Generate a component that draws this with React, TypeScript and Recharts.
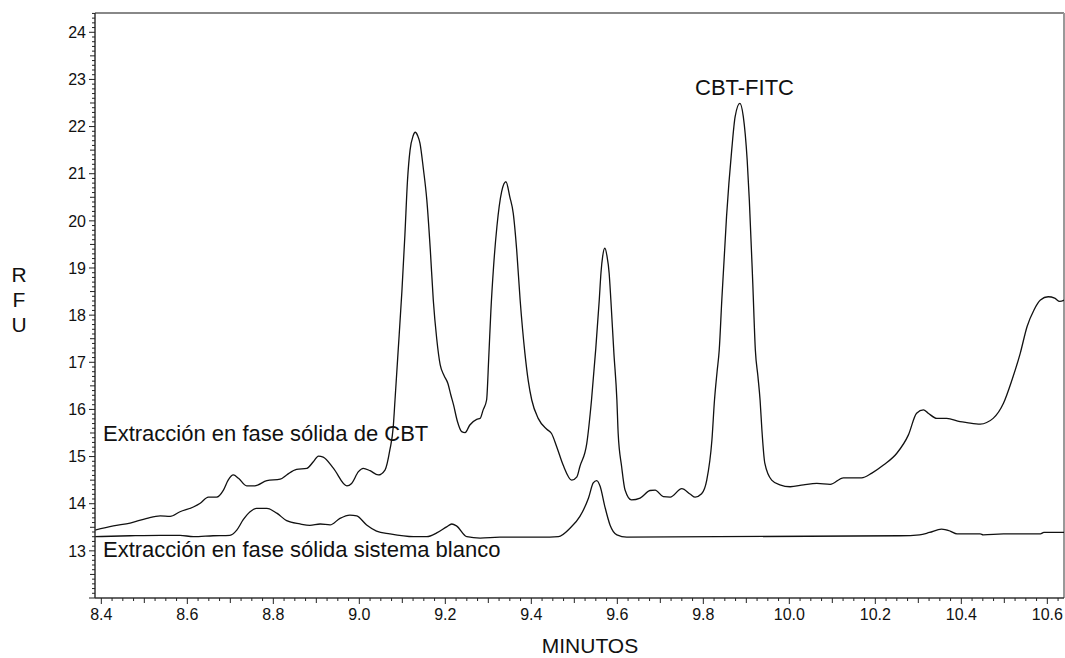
import React from 'react';
import { LineChart, Line, XAxis, YAxis, ReferenceLine } from 'recharts';

// CBT solid-phase extraction trace (minutes, RFU)
const cbtTime = [
  8.385, 8.428, 8.467, 8.506, 8.537, 8.56, 8.583, 8.614, 8.63, 8.649, 8.668, 8.684, 8.695,
  8.707, 8.719, 8.738, 8.757, 8.785, 8.816, 8.831, 8.854, 8.878, 8.893, 8.905, 8.916, 8.94,
  8.971, 8.982, 8.998, 9.009, 9.025, 9.044, 9.06, 9.071, 9.079, 9.083, 9.09, 9.099, 9.106,
  9.112, 9.118, 9.125, 9.13, 9.136, 9.141, 9.149, 9.157, 9.165, 9.172, 9.18, 9.188, 9.197,
  9.206, 9.213, 9.219, 9.228, 9.238, 9.246, 9.257, 9.273, 9.281, 9.288, 9.296, 9.301, 9.306,
  9.312, 9.32, 9.331, 9.341, 9.35, 9.358, 9.366, 9.374, 9.385, 9.393, 9.401, 9.416, 9.436,
  9.447, 9.459, 9.474, 9.494, 9.506, 9.513, 9.529, 9.54, 9.55, 9.558, 9.562, 9.566, 9.571,
  9.576, 9.581, 9.585, 9.592, 9.599, 9.602, 9.61, 9.618, 9.633, 9.653, 9.676, 9.688, 9.707,
  9.723, 9.75, 9.77, 9.781, 9.796, 9.808, 9.82, 9.826, 9.832, 9.837, 9.843, 9.854, 9.866,
  9.874, 9.885, 9.893, 9.902, 9.907, 9.915, 9.921, 9.927, 9.932, 9.936, 9.943, 9.959, 9.978,
  10.002, 10.033, 10.064, 10.095, 10.126, 10.168, 10.192, 10.219, 10.25, 10.277, 10.296,
  10.312, 10.323, 10.343, 10.366, 10.397, 10.413, 10.444, 10.474, 10.498, 10.518, 10.537,
  10.553, 10.569, 10.584, 10.602, 10.617, 10.629, 10.64,
];
const cbtRfu = [
  13.44, 13.53, 13.59, 13.69, 13.74, 13.73, 13.83, 13.93, 14.01, 14.14, 14.14, 14.29, 14.5,
  14.61, 14.54, 14.38, 14.38, 14.49, 14.52, 14.61, 14.73, 14.75, 14.89, 15.01, 14.99, 14.75,
  14.38, 14.43, 14.68, 14.75, 14.7, 14.61, 14.72, 15.14, 15.64, 16.2, 17.2, 18.5, 19.7,
  20.85, 21.5, 21.8, 21.88, 21.8, 21.65, 21.1, 20.44, 19.4, 18.32, 17.5, 16.95, 16.72,
  16.55, 16.3, 16.1, 15.75, 15.53, 15.51, 15.67, 15.79, 15.81, 15.99, 16.2, 17.1, 18.1,
  19.0, 19.88, 20.62, 20.83, 20.51, 20.16, 19.38, 18.32, 17.2, 16.6, 16.2, 15.81, 15.58,
  15.49, 15.21, 14.82, 14.5, 14.57, 14.79, 15.28, 16.2, 17.3, 18.32, 18.9, 19.25, 19.42,
  19.25, 18.89, 18.32, 17.2, 16.2, 15.49, 14.79, 14.29, 14.08, 14.12, 14.28, 14.29, 14.15,
  14.14, 14.32, 14.2, 14.14, 14.21, 14.5, 15.35, 16.2, 16.8, 17.26, 18.32, 20.09, 21.5,
  22.21, 22.49, 22.21, 21.29, 20.44, 18.68, 17.26, 16.7, 16.2, 15.6, 14.86, 14.5, 14.4,
  14.36, 14.4, 14.43, 14.41, 14.55, 14.55, 14.65, 14.82, 15.07, 15.46, 15.92,
  15.99, 15.92, 15.81, 15.81, 15.74, 15.72, 15.69, 15.81, 16.13, 16.63, 17.19,
  17.76, 18.11, 18.32, 18.39, 18.36, 18.29, 18.32,
];

// blank system trace (minutes, RFU)
const blankTime = [
  8.385, 8.467, 8.537, 8.583, 8.614, 8.66, 8.699, 8.715, 8.73, 8.746, 8.761, 8.785, 8.808,
  8.831, 8.862, 8.885, 8.909, 8.932, 8.955, 8.978, 8.994, 9.017, 9.04, 9.071, 9.126, 9.157,
  9.18, 9.203, 9.215, 9.226, 9.25, 9.281, 9.327, 9.443, 9.463, 9.49, 9.513, 9.533, 9.544,
  9.552, 9.56, 9.571, 9.583, 9.599, 9.622, 10.257, 10.303, 10.326, 10.354, 10.374, 10.39,
  10.444, 10.451, 10.498, 10.584, 10.592, 10.64,
];
const blankRfu = [
  13.3, 13.32, 13.33, 13.33, 13.3, 13.32, 13.33, 13.44, 13.66, 13.83, 13.9, 13.9, 13.8,
  13.64, 13.57, 13.54, 13.57, 13.55, 13.69, 13.76, 13.74, 13.55, 13.42, 13.36, 13.3, 13.3,
  13.38, 13.51, 13.57, 13.53, 13.3, 13.27, 13.29, 13.29, 13.3, 13.48, 13.73, 14.12, 14.44,
  14.49, 14.37, 13.94, 13.55, 13.34, 13.29, 13.32, 13.34, 13.39, 13.46, 13.42, 13.36,
  13.36, 13.34, 13.36, 13.36, 13.39, 13.39,
];

// axis ticks, in steps of 0.025 min and 0.1 RFU
const xTicks = Array.from({ length: 90 }, (_, i) => +((336 + i) * 0.025).toFixed(3));
const yTicks = Array.from({ length: 125 }, (_, i) => +((120 + i) * 0.1).toFixed(1));

const X_DOMAIN = [8.3853, 10.6388];
const Y_DOMAIN = [12, 24.409];

const cbtData = cbtTime.map((t, i) => ({ t, rfu: cbtRfu[i] }));
const blankData = blankTime.map((t, i) => ({ t, rfu: blankRfu[i] }));

const FONT = '"Liberation Sans", Arial, Helvetica, sans-serif';
const INK = '#111';

// tick line of 3px comes from recharts, majors get an extra stub
const XTick = ({ x, y, payload }: any) => {
  const k = Math.round(payload.value / 0.025);
  const major = k % 8 === 0;
  const extra = major ? 3 : k % 4 === 0 ? 2 : 0;
  return (
    <g>
      {extra > 0 && <line x1={x} x2={x} y1={y} y2={y + extra} stroke="#222" strokeWidth={1} />}
      {major && (
        <text x={x} y={y + 18.5} textAnchor="middle" fontSize={16} fill={INK} fontFamily={FONT}>
          {payload.value.toFixed(1)}
        </text>
      )}
    </g>
  );
};

const YTick = ({ x, y, payload }: any) => {
  const k = Math.round(payload.value * 10);
  const major = k % 10 === 0;
  const extra = major ? 3 : k % 5 === 0 ? 2 : 0;
  return (
    <g>
      {extra > 0 && <line x1={x - extra} x2={x} y1={y} y2={y} stroke="#222" strokeWidth={1} />}
      {major && k > 120 && (
        <text x={x - 6} y={y} dy="0.36em" textAnchor="end" fontSize={16} fill={INK} fontFamily={FONT}>
          {Math.round(payload.value)}
        </text>
      )}
    </g>
  );
};

export default function App() {
  return (
    <div style={{ position: 'absolute', left: 0, top: 0, width: 1065, height: 658, background: '#fff', fontFamily: FONT }}>
      <LineChart width={1065} height={658} margin={{ top: 13, right: 1, left: 0, bottom: 0 }}>
        <XAxis
          dataKey="t"
          type="number"
          domain={X_DOMAIN}
          allowDataOverflow
          ticks={xTicks}
          interval={0}
          height={60}
          tickSize={3}
          tickMargin={0}
          tickLine={{ stroke: '#222', strokeWidth: 1 }}
          tick={XTick}
          axisLine={{ stroke: '#333', strokeWidth: 1.5 }}
        />
        <YAxis
          dataKey="rfu"
          type="number"
          domain={Y_DOMAIN}
          allowDataOverflow
          ticks={yTicks}
          interval={0}
          width={95}
          tickSize={3}
          tickMargin={0}
          tickLine={{ stroke: '#222', strokeWidth: 1 }}
          tick={YTick}
          axisLine={{ stroke: '#333', strokeWidth: 1.5 }}
        />
        {/* frame on top and right */}
        <ReferenceLine y={Y_DOMAIN[1]} stroke="#888" strokeWidth={2} />
        <ReferenceLine x={X_DOMAIN[1]} stroke="#999" strokeWidth={2} />
        <Line
          data={cbtData}
          dataKey="rfu"
          type="monotone"
          stroke={INK}
          strokeWidth={1.3}
          dot={false}
          isAnimationActive={false}
        />
        <Line
          data={blankData}
          dataKey="rfu"
          type="monotone"
          stroke={INK}
          strokeWidth={1.3}
          dot={false}
          isAnimationActive={false}
        />
      </LineChart>
      <svg
        width={1065}
        height={658}
        style={{ position: 'absolute', left: 0, top: 0, pointerEvents: 'none' }}
        fontFamily={FONT}
        fill={INK}
      >
        <text x={103} y={441} fontSize={22}>Extracción en fase sólida de CBT</text>
        <text x={103} y={557} fontSize={22}>Extracción en fase sólida sistema blanco</text>
        <text x={695} y={95} fontSize={22}>CBT-FITC</text>
        <text x={19} y={282} fontSize={21} textAnchor="middle">R</text>
        <text x={19} y={307} fontSize={21} textAnchor="middle">F</text>
        <text x={19} y={332} fontSize={21} textAnchor="middle">U</text>
        <text x={590} y={653} fontSize={21} textAnchor="middle">MINUTOS</text>
      </svg>
    </div>
  );
}
